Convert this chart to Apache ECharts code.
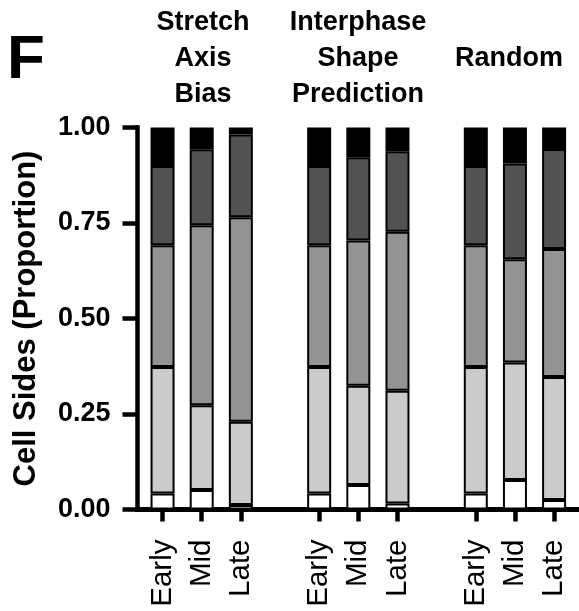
<!DOCTYPE html>
<html>
<head>
<meta charset="utf-8">
<script src="https://cdn.jsdelivr.net/npm/echarts@6/dist/echarts.min.js"></script>
<style>
html,body{margin:0;padding:0;background:#fff;}
#chart{width:579px;height:611px;}
</style>
</head>
<body>
<div id="chart"></div>
<script>
// ---- data ----
const categories = ['Early','Mid','Late','','Early','Mid','Late','','Early','Mid','Late'];
const groupTitles = ['Stretch\nAxis\nBias','Interphase\nShape\nPrediction','Random'];
const yTicks = [0, 0.25, 0.5, 0.75, 1.0];
// proportion of cell sides per class (bottom to top of each stack)
const white = [0.042,0.051,0.012,null,0.042,0.064,0.016,null,0.042,0.077,0.025];
const light = [0.331,0.222,0.218,null,0.331,0.260,0.295,null,0.331,0.308,0.322];
const mid   = [0.319,0.471,0.535,null,0.319,0.380,0.416,null,0.319,0.270,0.335];
const dark  = [0.207,0.199,0.217,null,0.207,0.218,0.211,null,0.207,0.251,0.262];
const black = [0.101,0.057,0.018,null,0.101,0.078,0.062,null,0.101,0.094,0.056];

const FONT = '"Liberation Sans", Arial, Helvetica, sans-serif';
const chart = echarts.init(document.getElementById('chart'), null, {renderer:'canvas'});

const stacks = [
  {name:'s1', data: white, color:'#ffffff'},
  {name:'s2', data: light, color:'#cbcbcb'},
  {name:'s3', data: mid,   color:'#939393'},
  {name:'s4', data: dark,  color:'#525252'},
  {name:'s5', data: black, color:'#000000'}
];

const gridTop = 127.5, gridBottom = 101.5;
const titleStyle = {fontFamily:FONT, fontWeight:'bold', fontSize:27, lineHeight:36, color:'#000', align:'center'};

const option = {
  animation: false,
  backgroundColor: '#ffffff',
  title: [
    {text:'F', left: 2, top: 25, textStyle:{fontFamily:FONT, fontWeight:'bold', fontSize:62, color:'#000'}},
    {text: groupTitles[0], left: 198, top: 0, textAlign:'center', textStyle:titleStyle},
    {text: groupTitles[1], left: 353, top: 0, textAlign:'center', textStyle:titleStyle},
    {text: groupTitles[2], left: 504, top: 36, textAlign:'center', textStyle:titleStyle}
  ],
  grid: [
    {left: 142.97, right: 5.33, top: gridTop, bottom: gridBottom, containLabel:false},
    {left: 137.5, right: 0, top: gridTop, bottom: gridBottom, containLabel:false}
  ],
  xAxis: [
    {
      type:'category', gridIndex:0, data: categories.map((c,i)=> i + '_' + c),
      boundaryGap: true,
      axisLine:{show:false},
      axisTick:{show:true, alignWithLabel:true, length:12, interval:(i)=> categories[i] !== '', lineStyle:{color:'#000', width:4.5}},
      axisLabel:{show:true, interval:0, rotate:90, margin:30, formatter:(v,i)=> categories[i], fontFamily:FONT, fontSize:29.5, color:'#000'},
      splitLine:{show:false}
    },
    {
      type:'value', gridIndex:1, min:0, max:1,
      axisLine:{show:true, onZero:false, lineStyle:{color:'#000', width:5, cap:'square'}},
      axisTick:{show:false}, axisLabel:{show:false}, splitLine:{show:false}
    }
  ],
  yAxis: [
    {type:'value', gridIndex:0, min:0, max:1, show:false},
    {
      type:'value', gridIndex:1, min:0, max:1, interval:0.25,
      name:'Cell Sides (Proportion)', nameLocation:'middle', nameGap:96, nameRotate:90,
      nameTextStyle:{fontFamily:FONT, fontWeight:'bold', fontSize:31, color:'#000'},
      axisLine:{show:true, lineStyle:{color:'#000', width:4.5, cap:'square'}},
      axisTick:{show:true, length:15, lineStyle:{color:'#000', width:4.5}},
      axisLabel:{show:true, margin:27, formatter:(v)=> yTicks.indexOf(v) >= 0 ? v.toFixed(2) : '', fontFamily:FONT, fontWeight:'bold', fontSize:27, color:'#000'},
      splitLine:{show:false}
    }
  ],
  series: stacks.map(s => ({
    type:'bar', name:s.name, xAxisIndex:0, yAxisIndex:0, stack:'all',
    data: s.data, barWidth:24,
    itemStyle:{color:s.color, borderColor:'#000', borderWidth:2}
  }))
};
chart.setOption(option);
</script>
</body>
</html>
